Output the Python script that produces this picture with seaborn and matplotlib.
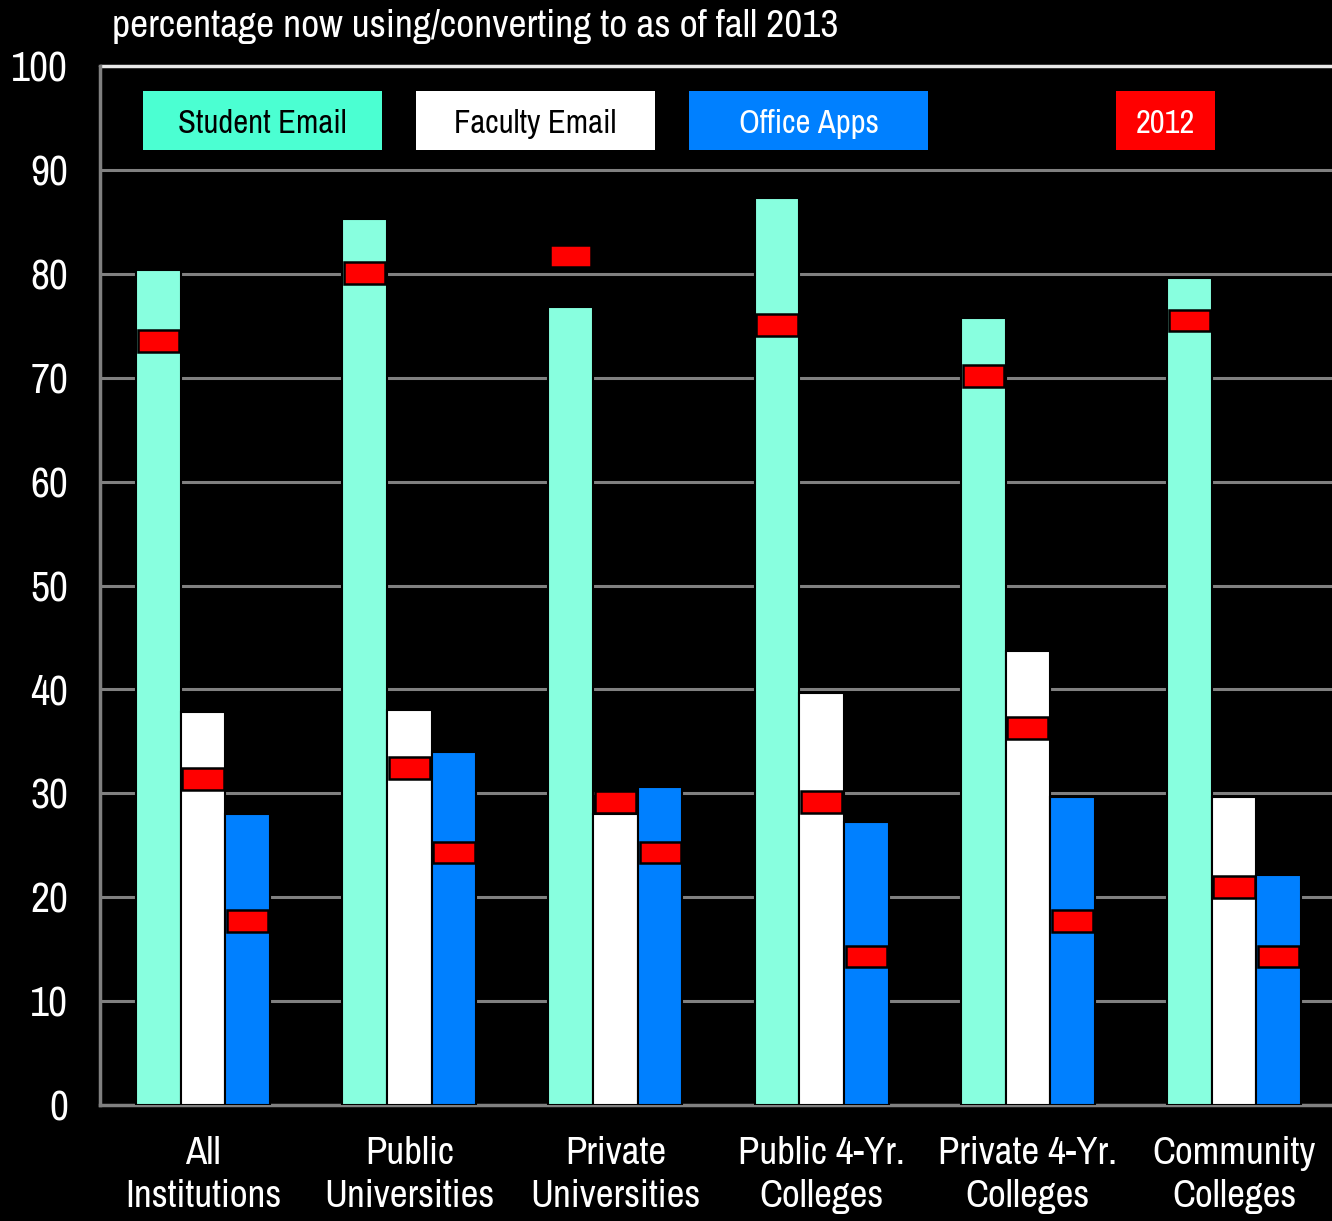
import numpy as np
import pandas as pd
import matplotlib
matplotlib.use("Agg")
import matplotlib.pyplot as plt
from matplotlib import font_manager
import seaborn as sns

# categories and series
categories = ["All\nInstitutions", "Public\nUniversities", "Private\nUniversities",
              "Public 4-Yr.\nColleges", "Private 4-Yr.\nColleges", "Community\nColleges"]
series = ["Student Email", "Faculty Email", "Office Apps"]
student_2013 = [80.4, 85.3, 76.8, 87.3, 75.7, 79.6]
faculty_2013 = [37.8, 38.0, 28.0, 39.7, 43.7, 29.6]
office_2013 = [28.0, 34.0, 30.6, 27.2, 29.6, 22.1]
student_2012 = [73.5, 80.1, 81.7, 75.1, 70.2, 75.5]
faculty_2012 = [31.4, 32.4, 29.2, 29.2, 36.3, 21.0]
office_2012 = [17.7, 24.3, 24.3, 14.3, 17.7, 14.3]

BAR_COLORS = {"Student Email": "#88FFDF", "Faculty Email": "#FFFFFF", "Office Apps": "#0080FF"}
LEGEND_COLORS = {"Student Email": "#4BFFD2", "Faculty Email": "#FFFFFF", "Office Apps": "#0080FF"}
GRID = "#808080"

sns.set_theme(style="dark")

# look for a narrow sans installed on this machine
names = sorted({f.name for f in font_manager.fontManager.ttflist})
narrow = [n for n in names if "Narrow" in n or "Condensed" in n]
if narrow:
    family = narrow[0]
    scale = 1.0
else:
    family = "Liberation Sans"
    scale = 0.82
plt.rcParams["font.family"] = [family, "DejaVu Sans"]

df = pd.DataFrame({
    "category": categories * 3,
    "series": [s for s in series for _ in categories],
    "value": student_2013 + faculty_2013 + office_2013,
})
prev = {"Student Email": student_2012, "Faculty Email": faculty_2012, "Office Apps": office_2012}

fig = plt.figure(figsize=(13.32, 12.21), dpi=100, facecolor="black")
ax = fig.add_axes([100 / 1332, 1 - 1105 / 1221, 1 - 100 / 1332, (1105 - 66) / 1221])
ax.set_facecolor("black")

group_width = 0.65
sns.barplot(data=df, x="category", y="value", hue="series", order=categories,
            hue_order=series, palette=BAR_COLORS, saturation=1, width=group_width,
            dodge=True, edgecolor="black", linewidth=1.5, legend=False, ax=ax, zorder=3)

# 2012 markers on each bar
bw = group_width / 3
x = np.arange(len(categories))
for i, s in enumerate(series):
    ax.bar(x + (i - 1) * bw, 2.1, bottom=np.array(prev[s]) - 1.05, width=0.2,
           color="#FF0000", edgecolor="black", linewidth=1.8, zorder=4)

ax.set_ylim(0, 100)
ax.set_xlim(-0.5, 5.475)
ax.set_yticks(range(0, 101, 10))
ax.set_xticks(np.arange(-0.5, 5.5, 1), minor=True)
ax.set_xticks(x)
ax.set_xticklabels(categories, color="white", fontsize=28 * scale, linespacing=1.3)
ax.tick_params(axis="x", which="major", length=0, pad=22)
ax.tick_params(axis="x", which="minor", length=9, width=2, color=GRID, direction="out")
ax.tick_params(axis="y", length=9, width=2, color=GRID, direction="out",
               labelsize=30 * scale, labelcolor="white", pad=14)
ax.set_xlabel("")
ax.set_ylabel("")
ax.grid(False)
for yv in range(10, 100, 10):
    ax.axhline(yv, color=GRID, linewidth=2.2, zorder=1)
ax.axhline(100, color="#E8E8E8", linewidth=2.5, zorder=1, clip_on=False)
for side in ["top", "right"]:
    ax.spines[side].set_visible(False)
for side in ["left", "bottom"]:
    ax.spines[side].set_visible(True)
    ax.spines[side].set_color(GRID)
    ax.spines[side].set_linewidth(2.5)

# legend boxes drawn as labelled tiles
legend_items = [("Student Email", LEGEND_COLORS["Student Email"], "black", 143, 382),
                ("Faculty Email", LEGEND_COLORS["Faculty Email"], "black", 416, 655),
                ("Office Apps", LEGEND_COLORS["Office Apps"], "white", 689, 928),
                ("2012", "#FF0000", "white", 1116, 1215)]
for label, fc, tc, x0, x1 in legend_items:
    fig.patches.append(plt.Rectangle((x0 / 1332, 1 - 150 / 1221), (x1 - x0) / 1332, 59 / 1221,
                                     transform=fig.transFigure, facecolor=fc, edgecolor="none",
                                     zorder=5))
    fig.text((x0 + x1) / 2 / 1332, 1 - 124 / 1221, label, color=tc, fontsize=23.5 * scale,
             ha="center", va="center", zorder=6)

fig.text(112 / 1332, 1 - 27 / 1221, "percentage now using/converting to as of fall 2013",
         color="white", fontsize=28.5 * scale, ha="left", va="center")

fig.savefig("out.png", dpi=100, facecolor="black")
